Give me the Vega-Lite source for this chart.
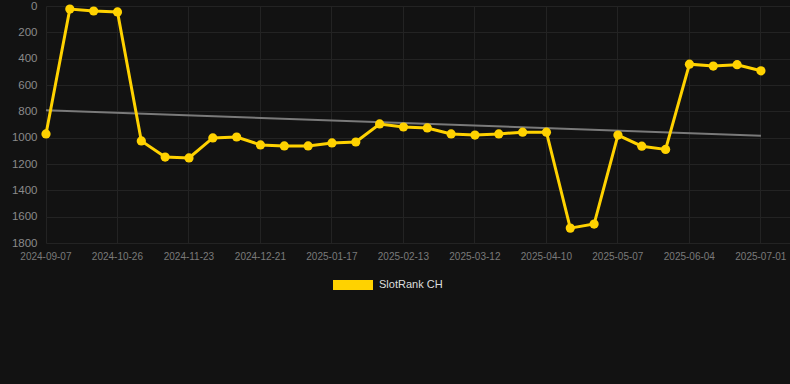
{
  "$schema": "https://vega.github.io/schema/vega-lite/v6.json",
  "autosize": {"type": "none"},
  "width": 744,
  "height": 237,
  "padding": {"left": 46, "top": 6, "right": 0, "bottom": 141},
  "background": "#121212",
  "config": {
    "view": {"stroke": null},
    "font": "Liberation Sans",
    "axis": {"gridColor": "#232323", "gridWidth": 1, "domain": false, "ticks": false}
  },
  "datasets": {
    "rank": [
      {"date": "2024-09-07", "rank": 972},
      {"date": "2024-10-12", "rank": 23},
      {"date": "2024-10-19", "rank": 38},
      {"date": "2024-10-26", "rank": 45},
      {"date": "2024-11-04", "rank": 1025},
      {"date": "2024-11-14", "rank": 1147},
      {"date": "2024-11-23", "rank": 1154},
      {"date": "2024-12-02", "rank": 1002},
      {"date": "2024-12-12", "rank": 995},
      {"date": "2024-12-21", "rank": 1055},
      {"date": "2024-12-30", "rank": 1063},
      {"date": "2025-01-08", "rank": 1063},
      {"date": "2025-01-17", "rank": 1040},
      {"date": "2025-01-26", "rank": 1033},
      {"date": "2025-02-04", "rank": 896},
      {"date": "2025-02-13", "rank": 919},
      {"date": "2025-02-22", "rank": 926},
      {"date": "2025-03-03", "rank": 972},
      {"date": "2025-03-12", "rank": 980},
      {"date": "2025-03-22", "rank": 972},
      {"date": "2025-04-01", "rank": 958},
      {"date": "2025-04-10", "rank": 958},
      {"date": "2025-04-19", "rank": 1687},
      {"date": "2025-04-28", "rank": 1656},
      {"date": "2025-05-07", "rank": 980},
      {"date": "2025-05-16", "rank": 1065},
      {"date": "2025-05-26", "rank": 1089},
      {"date": "2025-06-04", "rank": 442},
      {"date": "2025-06-13", "rank": 456},
      {"date": "2025-06-22", "rank": 446},
      {"date": "2025-07-01", "rank": 492}
    ],
    "trend": [
      {"date": "2024-09-07", "rank": 792},
      {"date": "2025-07-01", "rank": 985}
    ]
  },
  "encoding": {
    "x": {
      "field": "date",
      "type": "ordinal",
      "bandPosition": 0,
      "scale": {"type": "band", "paddingInner": 0, "paddingOuter": 0.11, "align": 0},
      "axis": {
        "title": null,
        "values": ["2024-09-07", "2024-10-26", "2024-11-23", "2024-12-21", "2025-01-17", "2025-02-13", "2025-03-12", "2025-04-10", "2025-05-07", "2025-06-04", "2025-07-01"],
        "bandPosition": 0,
        "labelAngle": 0,
        "labelAlign": "center",
        "labelOffset": -12,
        "labelFontSize": 10,
        "labelColor": "#7a7a7a",
        "labelPadding": 8,
        "grid": true
      }
    },
    "y": {
      "field": "rank",
      "type": "quantitative",
      "scale": {"domain": [0, 1800], "reverse": true, "nice": false},
      "axis": {
        "title": null,
        "format": "d",
        "values": [0, 200, 400, 600, 800, 1000, 1200, 1400, 1600, 1800],
        "labelFontSize": 11.5,
        "labelColor": "#8a8a8a",
        "labelPadding": 9,
        "grid": true
      }
    }
  },
  "layer": [
    {
      "data": {"name": "trend"},
      "mark": {"type": "line", "color": "#7a7a7a", "strokeWidth": 2}
    },
    {
      "data": {"name": "rank"},
      "mark": {"type": "line", "strokeWidth": 3},
      "encoding": {
        "color": {
          "datum": "SlotRank CH",
          "scale": {"range": ["#ffd200"]},
          "legend": {
            "title": null,
            "orient": "none",
            "legendX": 287,
            "legendY": 259,
            "symbolType": "M-1,-0.25L1,-0.25L1,0.25L-1,0.25Z",
            "symbolSize": 1600,
            "symbolFillColor": "#ffd200",
            "symbolStrokeColor": "#ffd200",
            "symbolStrokeWidth": 0,
            "symbolOpacity": 1,
            "labelColor": "#dddddd",
            "labelFontSize": 11,
            "labelOffset": 6
          }
        }
      }
    },
    {
      "data": {"name": "rank"},
      "mark": {"type": "circle", "size": 85, "opacity": 1, "color": "#ffd200"}
    }
  ]
}
